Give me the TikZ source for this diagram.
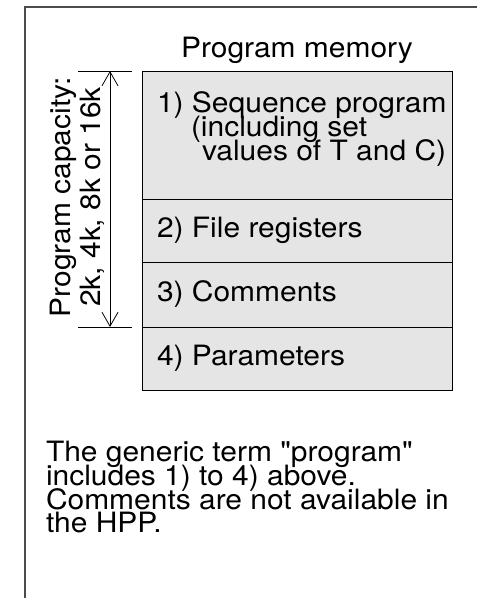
\documentclass[tikz,border=0pt]{standalone}
\usepackage{fontspec}
\setmainfont{TeX Gyre Heros}[FakeStretch=1.07, Ligatures=TeXOff]
\usetikzlibrary{arrows.meta}
\begin{document}
\begin{tikzpicture}[x=1pt,y=-1pt,
  txt/.style={font=\fontsize{28}{24}\selectfont, inner sep=0pt, outer sep=0pt, text height=19pt, text depth=4pt},
  rowbox/.style={draw=black, fill=black!10, line width=1pt, minimum width=310pt, inner sep=0pt, outer sep=0pt},
  frameline/.style={draw=black!70, line width=1.2pt},
  dimline/.style={draw=black, line width=0.8pt},
  dimarrow/.style={draw=black, line width=0.8pt,
    {Straight Barb[length=14pt,width=16pt]}-{Straight Barb[length=14pt,width=16pt]}}]
\useasboundingbox (0,0) rectangle (477,598);
% frame
\coordinate (fbl) at (25,598);
\coordinate (ftl) at (25,7);
\coordinate (ftr) at (477,7);
\draw[frameline] (fbl) -- (ftl) -- (ftr);
% title
\node[txt, anchor=base] (title) at (297,57) {Program memory};
% memory rows
\node[rowbox, minimum height=128pt] (r1) at (297,135) {};
\node[rowbox, minimum height=63pt] (r2) at (297,230.5) {};
\node[rowbox, minimum height=65pt] (r3) at (297,294.5) {};
\node[rowbox, minimum height=63pt] (r4) at (297,358.5) {};
\node[txt, anchor=base west] (t1a) at (157,112) {1) Sequence program};
\node[txt, anchor=base west] (t1b) at (191,136) {(including set};
\node[txt, anchor=base west] (t1c) at (202,160) {values of T and C)};
\node[txt, anchor=base west] (t2) at (157,237.5) {2) File registers};
\node[txt, anchor=base west] (t3) at (157,301) {3) Comments};
\node[txt, anchor=base west] (t4) at (157,365) {4) Parameters};
% dimension
\coordinate (tkal) at (78,71);
\coordinate (tkar) at (132,71);
\coordinate (tkbl) at (78,327);
\coordinate (tkbr) at (132,327);
\coordinate (dimtop) at (110,71);
\coordinate (dimbot) at (110,327);
\draw[dimline] (tkal) -- (tkar);
\draw[dimline] (tkbl) -- (tkbr);
\draw[dimarrow] (dimtop) -- (dimbot);
\node[txt, anchor=base, rotate=90] (cap1) at (70,197) {Program capacity:};
\node[txt, anchor=base, rotate=90] (cap2) at (100,197) {2k, 4k, 8k or 16k};
% note
\node[txt, anchor=base west] (n1) at (46,461.5) {The generic term "program"};
\node[txt, anchor=base west] (n2) at (46,485.3) {includes 1) to 4) above.};
\node[txt, anchor=base west] (n3) at (46,509.1) {Comments are not available in};
\node[txt, anchor=base west] (n4) at (46,532.9) {the HPP.};
\end{tikzpicture}
\end{document}
